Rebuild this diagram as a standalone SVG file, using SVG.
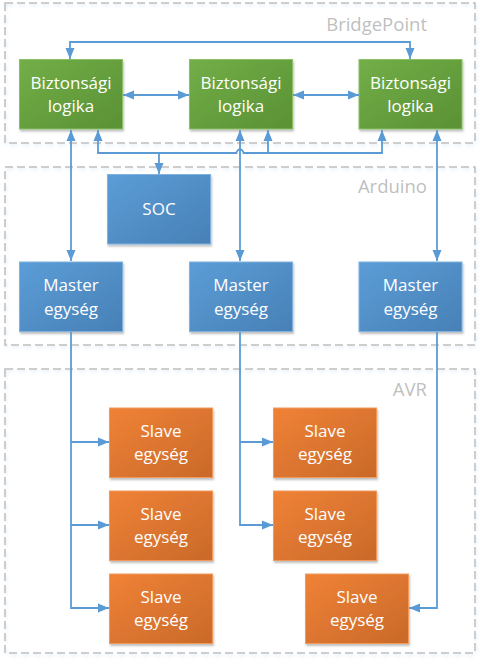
<svg xmlns="http://www.w3.org/2000/svg" width="482" height="663" viewBox="0 0 482 663">
<defs>
<linearGradient id="gGreen" x1="0" y1="0" x2="1" y2="1"><stop offset="0" stop-color="#72AE48"/><stop offset="1" stop-color="#5A9134"/></linearGradient>
<linearGradient id="gBlue" x1="0" y1="0" x2="1" y2="1"><stop offset="0" stop-color="#5C9DD7"/><stop offset="1" stop-color="#4780B6"/></linearGradient>
<linearGradient id="gOrange" x1="0" y1="0" x2="1" y2="1"><stop offset="0" stop-color="#F08236"/><stop offset="1" stop-color="#C9692A"/></linearGradient>
<filter id="sh" x="-10%" y="-10%" width="130%" height="130%"><feDropShadow dx="1" dy="2" stdDeviation="1.2" flood-color="#000" flood-opacity="0.25"/></filter>
<filter id="csh" x="-5%" y="-5%" width="110%" height="110%"><feDropShadow dx="1" dy="2" stdDeviation="1.5" flood-color="#9DC3E6" flood-opacity="0.35"/></filter>
<marker id="ah" markerUnits="userSpaceOnUse" markerWidth="12" markerHeight="10" refX="11" refY="5" orient="auto-start-reverse"><path d="M0,0.5 L11,5 L0,9.5 Z" fill="#5B9BD5"/></marker>
</defs>
<style>
.cont{fill:none;stroke:#BFBFBF;stroke-width:1.5;stroke-dasharray:8 4}
.clabel{font-family:"Open Sans","Noto Sans",sans-serif;font-size:18.5px;fill:#BFBFBF;text-anchor:end}
.box{stroke-width:1;filter:url(#sh)}
.green{fill:url(#gGreen);stroke:#8CBF66}
.blue{fill:url(#gBlue);stroke:#7FB2E0}
.orange{fill:url(#gOrange);stroke:#F29A5C}
.t{font-family:"Open Sans","Noto Sans",sans-serif;font-size:17px;fill:#FFFFFF;text-anchor:middle}
.c{fill:none;stroke:#5B9BD5;stroke-width:1.8}
</style>
<g id="containers">
<g id="bridgepoint"><rect class="cont" x="5" y="3" width="470" height="140" filter="url(#csh)"/><text class="clabel" x="427" y="30.5">BridgePoint</text></g>
<g id="arduino"><rect class="cont" x="5" y="167" width="470" height="178" filter="url(#csh)"/><text class="clabel" x="427" y="193">Arduino</text></g>
<g id="avr"><rect class="cont" x="5" y="369" width="470" height="284" filter="url(#csh)"/><text class="clabel" x="427" y="396">AVR</text></g>
</g>
<g id="bl1"><rect class="box green" x="19.5" y="59.5" width="103" height="69.5"/><text class="t" x="71" y="89">Biztonsági</text><text class="t" x="71" y="112">logika</text></g>
<g id="bl2"><rect class="box green" x="189.5" y="59.5" width="103" height="69.5"/><text class="t" x="241" y="89">Biztonsági</text><text class="t" x="241" y="112">logika</text></g>
<g id="bl3"><rect class="box green" x="359" y="59.5" width="103" height="69.5"/><text class="t" x="410.5" y="89">Biztonsági</text><text class="t" x="410.5" y="112">logika</text></g>
<g id="soc"><rect class="box blue" x="107.5" y="174.5" width="103" height="69.5"/><text class="t" x="159" y="215">SOC</text></g>
<g id="m1"><rect class="box blue" x="19.5" y="262" width="103" height="69.5"/><text class="t" x="71" y="291">Master</text><text class="t" x="71" y="314.5">egység</text></g>
<g id="m2"><rect class="box blue" x="189.5" y="262" width="103" height="69.5"/><text class="t" x="241" y="291">Master</text><text class="t" x="241" y="314.5">egység</text></g>
<g id="m3"><rect class="box blue" x="359" y="262" width="103" height="69.5"/><text class="t" x="410.5" y="291">Master</text><text class="t" x="410.5" y="314.5">egység</text></g>
<g id="s1"><rect class="box orange" x="109.5" y="408" width="103" height="69.5"/><text class="t" x="161" y="437">Slave</text><text class="t" x="161" y="460">egység</text></g>
<g id="s2"><rect class="box orange" x="109.5" y="491" width="103" height="69.5"/><text class="t" x="161" y="520">Slave</text><text class="t" x="161" y="543">egység</text></g>
<g id="s3"><rect class="box orange" x="109.5" y="574" width="103" height="69.5"/><text class="t" x="161" y="603">Slave</text><text class="t" x="161" y="626">egység</text></g>
<g id="s4"><rect class="box orange" x="273.5" y="408" width="103" height="69.5"/><text class="t" x="325" y="437">Slave</text><text class="t" x="325" y="460">egység</text></g>
<g id="s5"><rect class="box orange" x="273.5" y="491" width="103" height="69.5"/><text class="t" x="325" y="520">Slave</text><text class="t" x="325" y="543">egység</text></g>
<g id="s6"><rect class="box orange" x="305.5" y="574" width="103" height="69.5"/><text class="t" x="357" y="603">Slave</text><text class="t" x="357" y="626">egység</text></g>
<g id="connectors">
<path class="c" d="M70,59 V42 H410 V59" marker-start="url(#ah)" marker-end="url(#ah)"/>
<path class="c" d="M123,95 H189" marker-start="url(#ah)" marker-end="url(#ah)"/>
<path class="c" d="M293,95 H359" marker-start="url(#ah)" marker-end="url(#ah)"/>
<path class="c" d="M98,130 V153 H236.5 A3.5,3.5 0 0 1 243.5,153 H382 V130" marker-start="url(#ah)" marker-end="url(#ah)"/>
<path class="c" d="M268,153 V130" marker-end="url(#ah)"/>
<path class="c" d="M159,153 V174" marker-end="url(#ah)"/>
<path class="c" d="M71,130 V261" marker-start="url(#ah)" marker-end="url(#ah)"/>
<path class="c" d="M240,130 V261" marker-start="url(#ah)" marker-end="url(#ah)"/>
<path class="c" d="M437,130 V261" marker-start="url(#ah)" marker-end="url(#ah)"/>
<path class="c" d="M71,332 V608 H109" marker-end="url(#ah)"/>
<path class="c" d="M71,442 H109" marker-end="url(#ah)"/>
<path class="c" d="M71,525 H109" marker-end="url(#ah)"/>
<path class="c" d="M240,332 V525 H273" marker-end="url(#ah)"/>
<path class="c" d="M240,442 H273" marker-end="url(#ah)"/>
<path class="c" d="M437,332 V608 H409" marker-end="url(#ah)"/>
</g>
</svg>
